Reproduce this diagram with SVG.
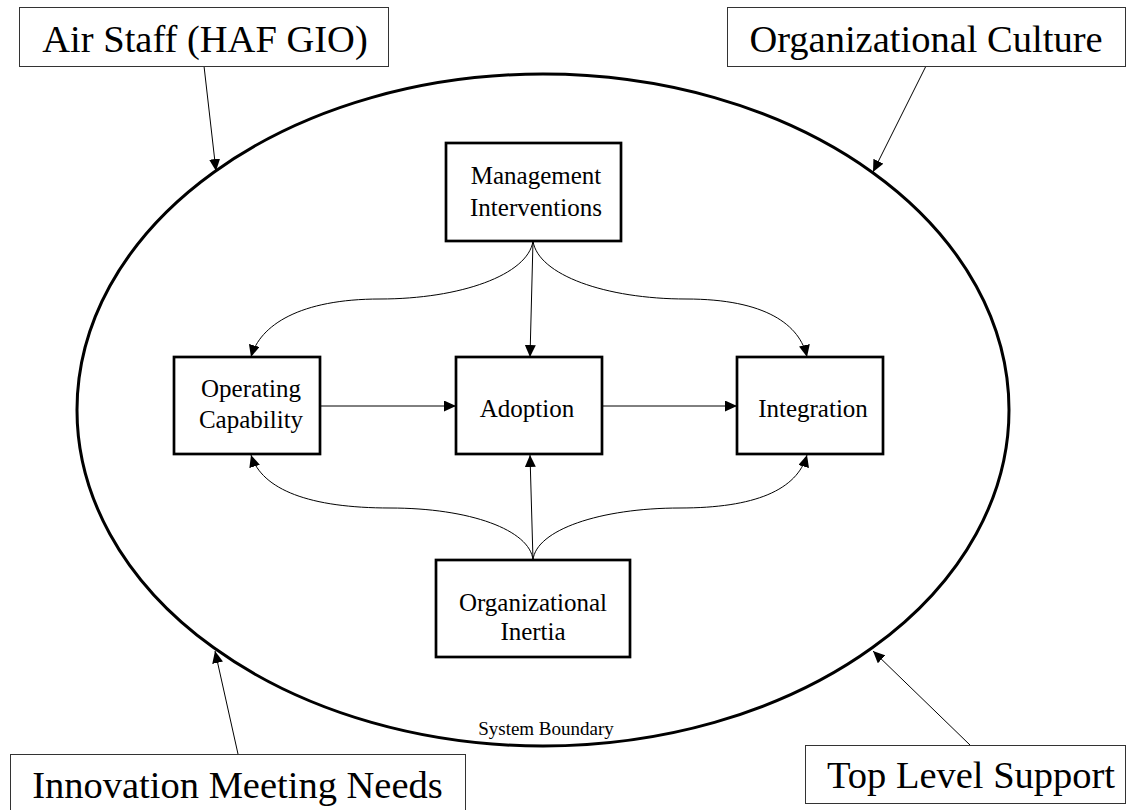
<svg xmlns="http://www.w3.org/2000/svg" width="1127" height="810" viewBox="0 0 1127 810">
<style>
.big{font-family:"Liberation Serif","Times New Roman",serif;font-size:38.5px;fill:#000;text-anchor:middle}
.mid{font-family:"Liberation Serif","Times New Roman",serif;font-size:25px;fill:#000;text-anchor:middle}
.small{font-family:"Liberation Serif","Times New Roman",serif;font-size:19px;fill:#000;text-anchor:middle}
.outer{fill:#fff;stroke:#333;stroke-width:1}
.inner{fill:#fff;stroke:#000;stroke-width:2.7}
.conn{fill:none;stroke:#000;stroke-width:1;marker-end:url(#ah)}
</style>
<defs>
<marker id="ah" viewBox="0 0 12 11" refX="12" refY="5.5" markerWidth="12" markerHeight="11" markerUnits="userSpaceOnUse" orient="auto">
<path d="M0,0 L12,5.5 L0,11 z" fill="#000"/>
</marker>
</defs>
<rect width="1127" height="810" fill="#fff"/>
<g id="system-boundary">
<ellipse cx="543" cy="410" rx="466" ry="336" fill="none" stroke="#000" stroke-width="3"/>
<text class="small" x="546" y="735">System Boundary</text>
</g>
<g id="connectors">
<path class="conn" d="M204,66 L216,171"/>
<path class="conn" d="M926,66 L873,172"/>
<path class="conn" d="M238,754 L215,651"/>
<path class="conn" d="M970,745 L873,651"/>
<path class="conn" d="M533,241 L530,357"/>
<path class="conn" d="M533,241 C528,275 460,299 380,299 C300,299 260,325 251,357"/>
<path class="conn" d="M533,241 C538,275 606,299 686,299 C766,299 800,325 807,357"/>
<path class="conn" d="M320,406 L456,406"/>
<path class="conn" d="M602,406 L737,406"/>
<path class="conn" d="M533,560 L530,455"/>
<path class="conn" d="M533,560 C530,530 470,508 390,508 C310,508 262,490 251,455"/>
<path class="conn" d="M533,560 C536,530 600,508 680,508 C755,508 797,490 807,455"/>
</g>
<g id="air-staff">
<rect class="outer" x="19.5" y="7.5" width="369" height="59"/>
<text class="big" x="205" y="52">Air Staff (HAF GIO)</text>
</g>
<g id="organizational-culture">
<rect class="outer" x="727.5" y="7.5" width="398" height="59"/>
<text class="big" x="926" y="52">Organizational Culture</text>
</g>
<g id="innovation-meeting-needs">
<rect class="outer" x="10.5" y="754.5" width="455" height="70"/>
<text class="big" x="237.5" y="798">Innovation Meeting Needs</text>
</g>
<g id="top-level-support">
<rect class="outer" x="805.5" y="745.5" width="320" height="58"/>
<text class="big" x="971" y="788">Top Level Support</text>
</g>
<g id="management-interventions">
<rect class="inner" x="446" y="143" width="175" height="98"/>
<text class="mid" x="536" y="184">Management</text>
<text class="mid" x="536" y="216">Interventions</text>
</g>
<g id="operating-capability">
<rect class="inner" x="174" y="357" width="146" height="97"/>
<text class="mid" x="251" y="397">Operating</text>
<text class="mid" x="251" y="428">Capability</text>
</g>
<g id="adoption">
<rect class="inner" x="456" y="357" width="146" height="97"/>
<text class="mid" x="527" y="417">Adoption</text>
</g>
<g id="integration">
<rect class="inner" x="737" y="357" width="146" height="97"/>
<text class="mid" x="813" y="417">Integration</text>
</g>
<g id="organizational-inertia">
<rect class="inner" x="436" y="560" width="194" height="97"/>
<text class="mid" x="533" y="611">Organizational</text>
<text class="mid" x="533" y="640">Inertia</text>
</g>
</svg>
